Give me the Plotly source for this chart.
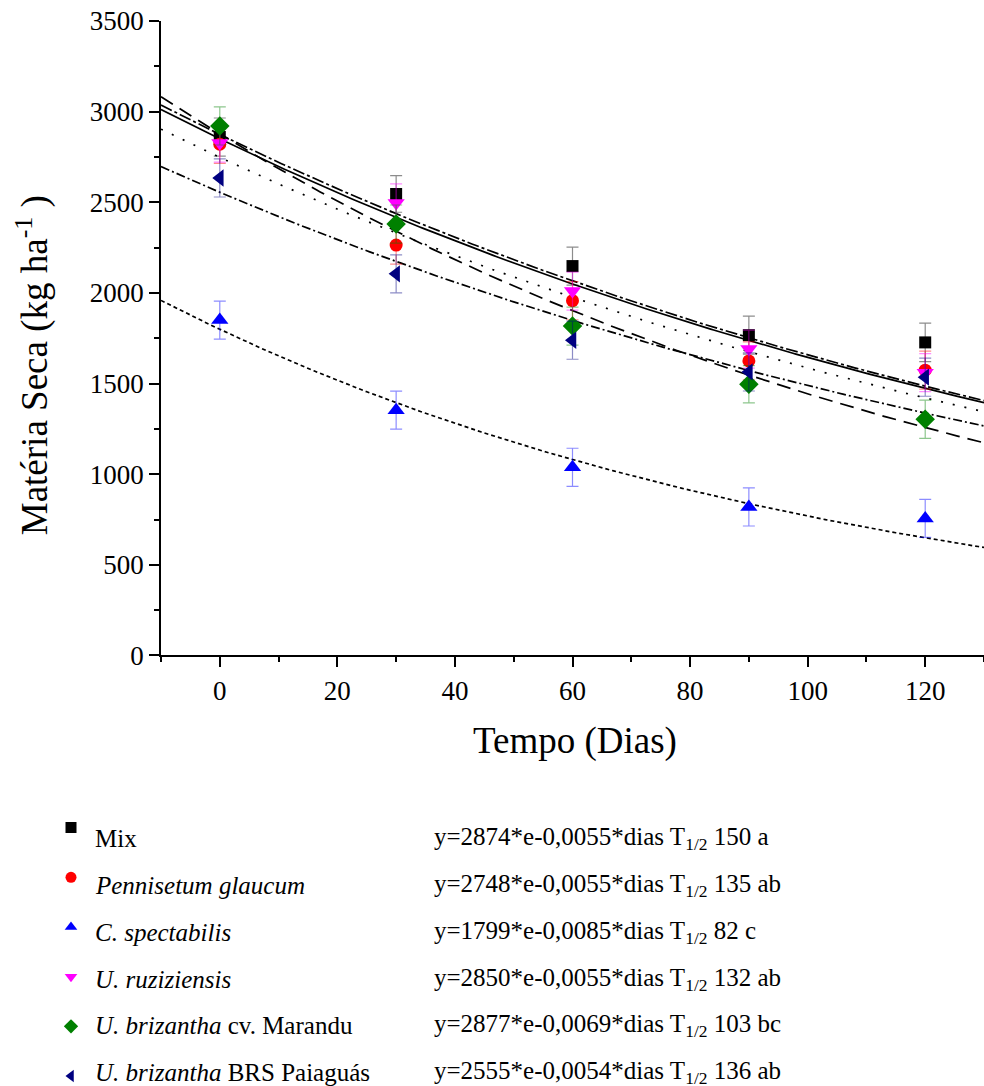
import numpy as np
import plotly.graph_objects as go

# ---------------- data ----------------
days = [0, 30, 60, 90, 120]

series_names = ["Mix", "<i>Pennisetum glaucum</i>", "<i>C. spectabilis</i>",
                "<i>U. ruziziensis</i>", "<i>U. brizantha</i> cv. Marandu",
                "<i>U. brizantha</i> BRS Paiaguás"]

mix_vals = [2860, 2546, 2148, 1767, 1727]
pennisetum_vals = [2820, 2264, 1957, 1625, 1574]
spectabilis_vals = [1850, 1353, 1038, 819, 756]
ruziziensis_vals = [2827, 2496, 2010, 1690, 1560]
marandu_vals = [2921, 2380, 1817, 1496, 1303]
paiaguas_vals = [2634, 2105, 1739, 1564, 1535]

mix_err = [105, 101, 105, 105, 106]
pennisetum_err = [105, 105, 105, 105, 105]
spectabilis_err = [105, 105, 105, 105, 105]
ruziziensis_err = [105, 105, 105, 105, 105]
marandu_err = [105, 105, 105, 103, 105]
paiaguas_err = [105, 105, 105, 105, 105]

# fitted model coefficients y = A * exp(-k * dias)
fit_A = [2874, 2748, 1799, 2850, 2877, 2555]
fit_k = [0.0055, 0.0055, 0.0085, 0.0055, 0.0069, 0.0054]

equations = [
    "y=2874*e-0,0055*dias T<sub>1/2</sub> 150 a",
    "y=2748*e-0,0055*dias T<sub>1/2</sub> 135 ab",
    "y=1799*e-0,0085*dias T<sub>1/2</sub> 82 c",
    "y=2850*e-0,0055*dias T<sub>1/2</sub> 132 ab",
    "y=2877*e-0,0069*dias T<sub>1/2</sub> 103 bc",
    "y=2555*e-0,0054*dias T<sub>1/2</sub> 136 ab",
]

values = [mix_vals, pennisetum_vals, spectabilis_vals, ruziziensis_vals, marandu_vals, paiaguas_vals]
errors = [mix_err, pennisetum_err, spectabilis_err, ruziziensis_err, marandu_err, paiaguas_err]

# ---------------- styles ----------------
colors = ["#000000", "#FF0000", "#0000FF", "#FF00FF", "#008000", "#000080"]
err_colors = ["rgba(0,0,0,0.45)", "rgba(255,0,0,0.45)", "rgba(0,0,255,0.45)",
              "rgba(255,0,255,0.45)", "rgba(0,128,0,0.45)", "rgba(0,0,128,0.45)"]
symbols = ["square", "circle", "triangle-up", "triangle-down", "diamond", "triangle-left"]
msizes = [12, 13, 15, 15, 15, 15]
dashes = ["12px,3px,3px,3px", "2px,10px", "4px,3px", "solid", "14px,8px", "9px,3px,2px,3px"]

# layout geometry (vertical positions given in target-picture pixels, compensated
# for the vertical scaling observed in the rendered screenshot)
W = 984
S = 0.9857
H = int(round(1086 / S))
TOP = 21 / S
PH = H - TOP
FONT = "Liberation Serif"

def py(p):
    return (H - p / S) / PH

fig = go.Figure()

xfit = np.linspace(-10, 130, 281)
for A, k, d in zip(fit_A, fit_k, dashes):
    fig.add_trace(go.Scatter(x=xfit, y=A * np.exp(-k * xfit), mode="lines",
                             line=dict(color="black", width=1.7, dash=d),
                             showlegend=False, hoverinfo="skip"))

for name, v, e, c, ec, s, ms in zip(series_names, values, errors, colors, err_colors, symbols, msizes):
    fig.add_trace(go.Scatter(x=days, y=v, mode="markers", name=name,
                             marker=dict(symbol=s, size=ms, color=c, line=dict(width=0)),
                             error_y=dict(type="data", array=e, color=ec, thickness=1.2, width=6),
                             showlegend=False))

# legend markers on an auxiliary axis
rows = list(range(len(series_names)))
for i, (c, s) in enumerate(zip(colors, symbols)):
    fig.add_trace(go.Scatter(x=[0], y=[rows[i]], mode="markers", xaxis="x2", yaxis="y2",
                             marker=dict(symbol=s, size=11, color=c, line=dict(width=0)),
                             showlegend=False, hoverinfo="skip"))

row0_px, row_step = 827, 49.6
Y2_DOM = 0.3
y2_bottom = (1086 - row0_px) / row_step
y2_top = ((H - Y2_DOM * PH) * S - row0_px) / row_step

annotations = []
text0_px, text_step = 838, 46.8
for i, (name, eq) in enumerate(zip(series_names, equations)):
    ty = py(text0_px + i * text_step)
    annotations.append(dict(text=name, x=93 / W, y=ty, xref="paper", yref="paper",
                            xanchor="left", yanchor="middle", showarrow=False,
                            font=dict(family=FONT, size=25, color="black")))
    annotations.append(dict(text=eq, x=432 / W, y=ty, xref="paper", yref="paper",
                            xanchor="left", yanchor="middle", showarrow=False,
                            font=dict(family=FONT, size=25, color="black")))

annotations.append(dict(text="Tempo (Dias)", x=575 / W, y=py(740), xref="paper", yref="paper",
                        xanchor="center", yanchor="middle", showarrow=False,
                        font=dict(family=FONT, size=37, color="black")))
annotations.append(dict(text="Matéria Seca (kg ha<sup>-1</sup> )", x=33 / W, y=py(365),
                        xref="paper", yref="paper", textangle=-90,
                        xanchor="center", yanchor="middle", showarrow=False,
                        font=dict(family=FONT, size=37, color="black")))

fig.update_layout(
    width=W, height=H, autosize=False,
    margin=dict(l=0, r=0, t=TOP, b=0, pad=0),
    paper_bgcolor="white", plot_bgcolor="rgba(0,0,0,0)",
    showlegend=False,
    font=dict(family=FONT, color="black"),
    xaxis=dict(domain=[161 / W, 1], range=[-10, 130], tick0=0, dtick=20,
               showline=True, linecolor="black", linewidth=1.5,
               ticks="outside", ticklen=10, tickwidth=1.5, tickcolor="black",
               minor=dict(ticks="outside", dtick=10, ticklen=5, tickwidth=1.5, tickcolor="black"),
               showgrid=False, zeroline=False,
               tickfont=dict(family=FONT, size=27, color="black")),
    yaxis=dict(domain=[py(655), 1], range=[0, 3500], tick0=0, dtick=500,
               showline=True, linecolor="black", linewidth=1.5,
               ticks="outside", ticklen=10, tickwidth=1.5, tickcolor="black",
               minor=dict(ticks="outside", dtick=250, ticklen=5, tickwidth=1.5, tickcolor="black"),
               showgrid=False, zeroline=False,
               tickfont=dict(family=FONT, size=27, color="black")),
    xaxis2=dict(domain=[0, 1], range=[-71, W - 71], visible=False, anchor="y2"),
    yaxis2=dict(domain=[0, Y2_DOM], range=[y2_bottom, y2_top], visible=False, anchor="x2"),
    annotations=annotations,
)

fig.write_html("out.html",
               config=dict(displayModeBar=False, responsive=False),
               post_script="document.documentElement.style.margin='0px';document.body.style.margin='0px';document.body.style.padding='0px';")
